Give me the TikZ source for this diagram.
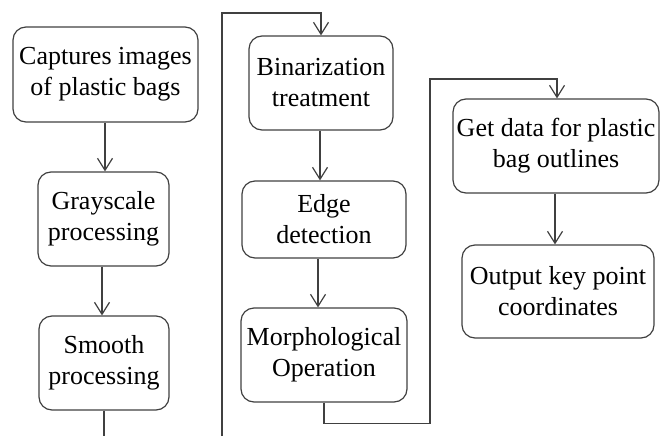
\documentclass[tikz,border=0pt]{standalone}
\usepackage{fontspec}
\setmainfont{Liberation Serif}
\usetikzlibrary{arrows.meta}
\definecolor{linec}{HTML}{404040}
\begin{document}
\begin{tikzpicture}[x=1pt,y=-1pt,
  box/.style={draw=linec, line width=1.2pt, rounded corners=13pt, align=center,
    font=\fontsize{26}{31}\selectfont, inner sep=0pt, text=black},
  conn/.style={draw=linec, line width=1.2pt},
  arr/.style={conn, -{Straight Barb[length=12pt,width=15pt,line width=1.2pt]}}]
\useasboundingbox (0,0) rectangle (660,436);
% boxes
\node[box, minimum width=185pt, minimum height=95pt] (b1) at (105.5,74.5) {Captures images\\of plastic bags};
\node[box, minimum width=131pt, minimum height=94pt] (b2) at (103.5,219) {Grayscale\\processing};
\node[box, minimum width=130pt, minimum height=94pt] (b3) at (104,363) {Smooth\\processing};
\node[box, minimum width=144pt, minimum height=94pt] (b4) at (321,83) {Binarization\\treatment};
\node[box, minimum width=164pt, minimum height=77pt] (b5) at (324,219.5) {Edge\\detection};
\node[box, minimum width=166pt, minimum height=94pt] (b6) at (324,355) {Morphological\\Operation};
\node[box, minimum width=206pt, minimum height=94pt] (b7) at (556,146) {Get data for plastic\\bag outlines};
\node[box, minimum width=192pt, minimum height=93pt] (b8) at (558,291.5) {Output key point\\coordinates};
% helper coordinates
\coordinate (e1) at (104,436);
\coordinate (s1) at (222,436);
\coordinate (t1) at (321,13);
\coordinate (c2) at (430,79);
% connectors
\draw[arr] ([xshift=-0.5pt]b1.south) -- ([xshift=1.5pt]b2.north);
\draw[arr] ([xshift=-1.5pt]b2.south) -- ([xshift=-2pt]b3.north);
\draw[conn] (b3.south) -- (e1);
\draw[arr] (s1) |- (t1) -- (b4.north);
\draw[arr] ([xshift=-1pt]b4.south) -- ([xshift=-4pt]b5.north);
\draw[arr] ([xshift=-6pt]b5.south) -- ([xshift=-6pt]b6.north);
\draw[arr] (b6.south) -- ++(0,21) -| (c2) -| ([xshift=1pt]b7.north);
\draw[arr] ([xshift=-1pt]b7.south) -- ([xshift=-3pt]b8.north);
\end{tikzpicture}
\end{document}
